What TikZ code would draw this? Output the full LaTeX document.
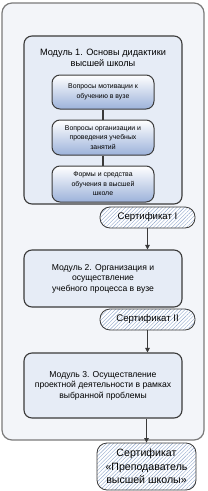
\documentclass[tikz,border=0pt]{standalone}
\usepackage{fontspec}
\setmainfont{Liberation Sans}
\usetikzlibrary{patterns.meta,arrows.meta,calc}
\definecolor{edge}{HTML}{3A3A3A}
\definecolor{outeredge}{HTML}{7A7A7A}
\definecolor{outerfill}{HTML}{F3F5F9}
\definecolor{modfill}{HTML}{E6ECF6}
\definecolor{subdark}{HTML}{9CB2DA}
\definecolor{submid}{HTML}{DCE4F2}
\definecolor{hatch}{HTML}{8FA6CC}
\begin{document}
\begin{tikzpicture}[x=1pt,y=-1pt,
  outerbox/.style={draw=outeredge,line width=1.2pt,fill=outerfill,rounded corners=10pt,minimum width=202pt,minimum height=437pt,inner sep=0pt},
  modbox/.style={draw=edge,line width=1.1pt,fill=modfill,rounded corners=8pt,minimum width=158pt,inner sep=0pt,align=center,font=\fontsize{8.6}{10.5}\selectfont},
  subbox/.style={draw=edge,line width=1pt,rounded corners=8pt,minimum width=102pt,inner sep=0pt,align=center,font=\fontsize{6.9}{9.6}\selectfont,shade,shading angle=-40,top color=white,middle color=submid,bottom color=subdark},
  certbox/.style={draw=edge,line width=0.8pt,rounded corners=10pt,inner sep=0pt,align=center,preaction={fill=white},pattern={Lines[angle=45,distance=2.6pt,line width=0.4pt]},pattern color=hatch},
  conn/.style={draw=edge,line width=1.2pt},
  arr/.style={conn,-{Triangle[length=4.5pt,width=4.5pt]}}
]
\useasboundingbox (0,0) rectangle (207,491);
\node[outerbox] (outer) at (103,221.5) {};
\node[modbox,minimum height=168pt] (m1) at (103,120) {};
\node[font=\fontsize{9.2}{10.4}\selectfont,align=center] (m1t) at (103,58) {Модуль 1. Основы дидактики\\высшей школы};
\node[subbox,minimum height=34pt] (s1) at (103,92) {Вопросы мотивации к\\обучению в вузе};
\node[subbox,minimum height=35pt] (s2) at (103,137.5) {Вопросы организации и\\проведения учебных\\занятий};
\node[subbox,minimum height=36pt] (s3) at (103,184) {Формы и средства\\обучения в высшей\\школе};
\draw[conn] (s1.south) -- (s2.north);
\draw[conn] (s2.south) -- (s3.north);
\node[certbox,minimum width=95pt,minimum height=21pt,font=\fontsize{9.6}{11}\selectfont] (c1) at (147.5,217.5) {Сертификат I};
\node[modbox,minimum height=57pt] (m2) at (103,278.5) {Модуль 2. Организация и\\осуществление\\учебного процесса в вузе};
\node[certbox,minimum width=95pt,minimum height=21pt,font=\fontsize{9.6}{11}\selectfont] (c2) at (147.5,319.5) {Сертификат II};
\node[modbox,minimum height=65pt] (m3) at (103,385.5) {Модуль 3. Осуществление\\проектной деятельности в рамках\\выбранной проблемы};
\node[certbox,minimum width=99pt,minimum height=47pt,font=\fontsize{10.6}{13.5}\selectfont] (c3) at (146.5,466.5) {Сертификат\\«Преподаватель\\высшей школы»};
\draw[arr] (c1.south) -- (c1.south |- m2.north);
\draw[arr] (c2.south) -- (c2.south |- m3.north);
\draw[arr] (m3.south -| c3.north) -- (c3.north);
\end{tikzpicture}
\end{document}
